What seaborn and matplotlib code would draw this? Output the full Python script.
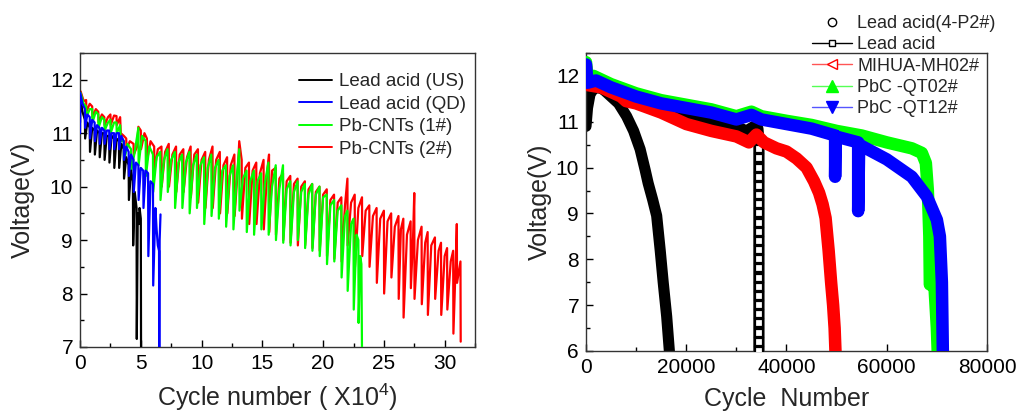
import pandas as pd
import seaborn as sns
import matplotlib.pyplot as plt
from matplotlib.lines import Line2D
from matplotlib.ticker import MultipleLocator

# ---- painel esquerdo: tensão x ciclos (x10^4) ----
us_pts = [(0.0, 11.2), (0.02, 11.65), (0.2, 11.4), (0.4, 11.25), (0.42, 10.9), (0.6, 11.2),
          (0.8, 11.1), (0.82, 10.65), (1.0, 11.1), (1.2, 11.05), (1.22, 10.6), (1.4, 11.05),
          (1.6, 11.0), (1.62, 10.55), (1.8, 11.0), (2.0, 11.0), (2.02, 10.5), (2.2, 10.95),
          (2.4, 10.95), (2.42, 10.45), (2.6, 10.95), (2.8, 10.9), (2.82, 10.35), (3.0, 10.9),
          (3.2, 10.85), (3.22, 10.35), (3.4, 10.8), (3.6, 10.7), (3.62, 10.15), (3.8, 10.55),
          (4.0, 10.4), (4.02, 9.75), (4.2, 10.3), (4.35, 10.1), (4.37, 8.9), (4.5, 9.9),
          (4.65, 9.6), (4.67, 7.15), (4.75, 9.5), (4.85, 9.3), (4.9, 9.6), (5.0, 9.4), (5.02, 6.9)]

qd_pts = [(0.0, 11.0), (0.02, 11.75), (0.2, 11.55), (0.4, 11.45), (0.42, 11.1), (0.6, 11.35),
          (0.8, 11.3), (0.82, 10.9), (1.0, 11.25), (1.2, 11.2), (1.22, 10.85), (1.4, 11.15),
          (1.6, 11.1), (1.62, 10.8), (1.8, 11.1), (2.0, 11.05), (2.02, 10.8), (2.2, 11.05),
          (2.4, 11.05), (2.42, 10.7), (2.6, 11.0), (2.8, 11.0), (2.82, 10.7), (3.0, 11.0),
          (3.2, 11.0), (3.22, 10.7), (3.4, 10.95), (3.6, 10.85), (3.62, 10.5), (3.8, 10.75),
          (4.0, 10.65), (4.02, 10.2), (4.2, 10.6), (4.4, 10.5), (4.42, 9.9), (4.6, 10.45),
          (4.8, 10.4), (4.82, 9.75), (5.0, 10.35), (5.2, 10.3), (5.22, 9.6), (5.4, 10.3),
          (5.6, 10.25), (5.62, 8.7), (5.8, 10.1), (6.0, 10.05), (6.02, 8.15), (6.2, 9.6),
          (6.3, 9.2), (6.4, 8.9), (6.5, 8.8), (6.52, 6.9), (6.55, 9.0), (6.62, 9.48)]

cnt1_pts = [(0.0, 11.5), (0.05, 11.75), (0.3, 11.55), (0.5, 11.5), (0.52, 11.3), (0.8, 11.45),
            (1.0, 11.45), (1.02, 11.2), (1.3, 11.4), (1.5, 11.35), (1.52, 11.1), (1.8, 11.3),
            (2.0, 11.25), (2.02, 11.05), (2.3, 11.2), (2.5, 11.25), (2.52, 11.0), (2.8, 11.2),
            (3.0, 11.2), (3.02, 11.0), (3.3, 11.15), (3.35, 10.85), (3.6, 10.85), (3.62, 10.45),
            (3.9, 10.8), (4.2, 10.7), (4.22, 10.3), (4.5, 10.65), (4.8, 11.1), (4.82, 10.4),
            (5.1, 10.95), (5.4, 10.85), (5.42, 10.2), (5.7, 10.75), (6.0, 10.6), (6.02, 9.9),
            (6.3, 10.55),
            (6.6, 10.65), (6.62, 9.75), (6.9, 10.5), (7.2, 10.7), (7.22, 9.9), (7.5, 10.5),
            (7.8, 10.65), (7.82, 9.6), (8.1, 10.45), (8.4, 10.6), (8.42, 9.6), (8.7, 10.45),
            (9.0, 10.65), (9.02, 9.5), (9.3, 10.4), (9.6, 10.6), (9.62, 9.6), (9.9, 10.4),
            (10.2, 10.55), (10.22, 9.3), (10.5, 10.35), (10.8, 10.6), (10.82, 9.45), (11.1, 10.35),
            (11.4, 10.5), (11.42, 9.4), (11.7, 10.3), (12.0, 10.4), (12.02, 9.25), (12.3, 10.2),
            (12.6, 10.4), (12.62, 9.2), (12.9, 10.2), (13.1, 10.7), (13.12, 9.55), (13.4, 10.15),
            (13.7, 10.3), (13.72, 9.15), (14.0, 10.1), (14.3, 10.3), (14.32, 9.1), (14.6, 10.1),
            (14.9, 10.25), (14.92, 9.2), (15.2, 10.05), (15.5, 10.45), (15.52, 9.1), (15.8, 10.0),
            (16.1, 10.4), (16.12, 9.0), (16.4, 9.95), (16.7, 10.4), (16.72, 8.95), (17.0, 9.95),
            (17.3, 10.1), (17.32, 8.9), (17.6, 9.9), (17.9, 10.1), (17.92, 9.0), (18.2, 9.9),
            (18.5, 10.05), (18.52, 8.85), (18.8, 9.85), (19.1, 10.05), (19.12, 8.8), (19.4, 9.85),
            (19.7, 10.0), (19.72, 8.7), (20.0, 9.8), (20.3, 9.85), (20.32, 8.55), (20.6, 9.65),
            (20.9, 9.75), (20.92, 8.6), (21.2, 9.55), (21.5, 9.65), (21.52, 8.3), (21.8, 9.45),
            (22.0, 9.55), (22.02, 8.05), (22.3, 9.3), (22.5, 9.4), (22.52, 7.7), (22.75, 9.1),
            (22.9, 9.0), (22.92, 7.45), (23.05, 8.7), (23.15, 8.55), (23.2, 6.9)]

cnt2_pts = [(0.0, 11.55), (0.05, 11.78), (0.3, 11.6), (0.5, 11.62), (0.52, 11.4), (0.8, 11.55),
            (1.0, 11.5), (1.02, 11.3), (1.3, 11.45), (1.5, 11.4), (1.52, 11.2), (1.8, 11.35),
            (2.0, 11.3), (2.02, 11.15), (2.3, 11.3), (2.5, 11.35), (2.52, 11.15), (2.8, 11.33),
            (3.0, 11.32), (3.02, 11.15), (3.3, 11.3), (3.35, 11.0), (3.6, 10.95), (3.8, 10.9),
            (3.82, 10.7), (4.1, 10.85), (4.4, 10.8), (4.42, 10.6), (4.7, 10.75), (4.8, 11.12),
            (5.0, 11.05), (5.02, 10.7), (5.3, 11.0), (5.5, 10.9), (5.52, 10.5), (5.8, 10.85),
            (6.1, 10.75), (6.12, 10.3), (6.4, 10.7),
            (6.7, 10.75), (6.72, 10.0), (7.0, 10.65), (7.3, 10.8), (7.32, 10.0), (7.6, 10.6),
            (7.9, 10.75), (7.92, 9.9), (8.2, 10.6), (8.5, 10.7), (8.52, 9.9), (8.8, 10.55),
            (9.1, 10.75), (9.12, 9.8), (9.4, 10.6), (9.7, 10.7), (9.72, 9.7), (10.0, 10.5),
            (10.3, 10.65), (10.32, 9.6), (10.6, 10.5), (10.9, 10.75), (10.92, 9.6), (11.2, 10.5),
            (11.5, 10.65), (11.52, 9.5), (11.8, 10.4), (12.1, 10.55), (12.12, 9.5), (12.4, 10.4),
            (12.7, 10.6), (12.72, 9.45), (13.0, 10.4), (13.1, 10.85), (13.3, 10.5), (13.32, 9.4),
            (13.6, 10.35), (13.9, 10.45), (13.92, 9.3), (14.2, 10.3), (14.5, 10.45), (14.52, 9.3),
            (14.8, 10.25), (15.1, 10.5), (15.12, 9.2), (15.4, 10.3), (15.55, 10.6), (15.57, 9.15),
            (15.8, 10.3), (16.1, 10.35), (16.12, 9.1), (16.4, 10.15), (16.7, 10.25), (16.72, 9.0),
            (17.0, 10.1), (17.3, 10.2), (17.32, 8.95), (17.6, 10.05), (17.9, 10.15), (17.92, 8.9),
            (18.2, 10.0), (18.5, 10.1), (18.52, 8.9), (18.8, 9.95), (19.1, 10.05), (19.12, 8.85),
            (19.4, 9.9), (19.7, 10.0), (19.72, 8.8), (20.0, 9.85), (20.3, 9.95), (20.32, 8.7),
            (20.6, 9.75), (20.9, 9.85), (20.92, 8.65), (21.2, 9.7), (21.5, 9.8), (21.52, 8.6),
            (21.8, 9.65), (22.0, 10.15), (22.02, 8.9), (22.3, 9.7), (22.6, 9.85), (22.62, 8.5),
            (22.9, 9.6), (23.2, 9.8), (23.22, 8.7), (23.5, 9.55), (23.8, 9.65), (23.82, 8.5),
            (24.1, 9.45), (24.4, 9.6), (24.42, 8.2), (24.7, 9.4), (25.0, 9.55), (25.02, 8.0),
            (25.3, 9.35), (25.6, 9.5), (25.62, 8.3), (25.9, 9.25), (26.2, 9.45), (26.22, 7.9),
            (26.4, 9.2), (26.6, 9.4), (26.62, 7.55), (26.9, 9.1), (27.2, 9.35), (27.22, 8.1),
            (27.4, 9.05), (27.5, 9.88), (27.52, 7.9), (27.8, 9.0), (28.1, 9.25), (28.12, 7.8),
            (28.4, 8.95), (28.6, 9.15), (28.62, 7.6), (28.9, 8.9), (29.2, 9.05), (29.22, 7.9),
            (29.5, 8.8), (29.7, 8.95), (29.72, 7.6), (30.0, 8.7), (30.2, 8.85), (30.22, 7.7),
            (30.5, 8.6), (30.7, 8.8), (30.72, 7.25), (30.9, 8.5), (31.0, 9.3), (31.02, 8.2),
            (31.2, 8.45), (31.3, 8.6), (31.32, 7.1)]

# ---- painel direito: tensão x número de ciclos ----
p2_pts = [(0, 10.9), (300, 11.3), (800, 11.6), (1500, 11.72), (2500, 11.75), (3500, 11.7),
          (5000, 11.55), (6500, 11.4), (8100, 11.12), (9500, 10.8), (10800, 10.4), (11800, 9.95),
          (12400, 9.66), (13300, 9.3), (14100, 8.95), (14800, 8.2), (15400, 7.5), (16100, 6.75),
          (16700, 5.9)]

lead_pts = [(0, 11.8), (2000, 11.85), (5000, 11.7), (10000, 11.45), (15000, 11.3), (20000, 11.1),
            (25000, 11.0), (30000, 10.9), (32000, 10.8), (33500, 10.9), (34300, 10.85),
            (34500, 10.6), (34500, 10.4), (34500, 10.2), (34500, 10.0), (34500, 9.8), (34500, 9.6),
            (34500, 9.4), (34500, 9.2), (34500, 9.0), (34500, 8.8), (34500, 8.6), (34500, 8.4),
            (34500, 8.2), (34500, 8.0), (34500, 7.8), (34500, 7.6), (34500, 7.4), (34500, 7.2),
            (34500, 7.0), (34500, 6.8), (34500, 6.6), (34500, 6.4), (34500, 6.2), (34500, 6.0)]

mihua_pts = [(0, 12.2), (300, 11.8), (3000, 11.75), (7000, 11.55), (8000, 11.45), (10000, 11.4),
             (15000, 11.2), (20000, 10.95), (25000, 10.8), (30000, 10.68), (32500, 10.55),
             (34000, 10.72), (35500, 10.55), (38000, 10.42), (40000, 10.35), (42000, 10.2),
             (44000, 10.0), (45500, 9.7), (46500, 9.45), (47200, 9.2), (47800, 8.9), (48400, 8.2),
             (48900, 7.5), (49300, 7.0), (49600, 6.5), (49800, 5.9)]

qt02_pts = [(0, 12.3), (300, 11.95), (1500, 12.0), (5000, 11.82), (10000, 11.62), (15000, 11.47),
            (20000, 11.37), (25000, 11.27), (30000, 11.12), (33000, 11.22), (35000, 11.12),
            (40000, 11.02), (45000, 10.93), (50000, 10.8), (55000, 10.7), (60000, 10.55),
            (65000, 10.42), (67000, 10.32), (67800, 10.1), (68200, 9.5), (68500, 8.5), (68600, 7.45),
            (69500, 7.45), (70000, 6.5), (70200, 5.9)]

qt12_pts = [(0, 12.25), (300, 11.85), (2000, 11.9), (5000, 11.75), (10000, 11.55), (15000, 11.4),
            (20000, 11.3), (25000, 11.2), (30000, 11.05), (33000, 11.15), (35000, 11.05),
            (40000, 10.95), (45000, 10.85), (49700, 10.7), (49700, 9.8), (49800, 10.68),
            (54300, 10.55), (54300, 9.05), (54500, 10.5), (60000, 10.18), (65000, 9.8),
            (68000, 9.37), (70000, 8.86), (70600, 8.5), (71000, 7.5), (71200, 5.9)]

plt.rcParams['figure.dpi'] = 100
sns.set_theme(style='ticks')
plt.rcParams['font.family'] = ['Liberation Sans', 'DejaVu Sans']
plt.rcParams['mathtext.fontset'] = 'custom'
plt.rcParams['mathtext.rm'] = 'Liberation Sans'


def desenha(ax, pts, cor, lw, z):
    df = pd.DataFrame(pts, columns=['ciclo', 'tensao'])
    sns.lineplot(data=df, x='ciclo', y='tensao', ax=ax, color=cor, linewidth=lw,
                 estimator=None, sort=False, zorder=z)


fig = plt.figure(figsize=(10.17, 4.12))
ax1 = fig.add_axes([0.0787, 0.1578, 0.3884, 0.7136])
ax2 = fig.add_axes([0.5762, 0.1481, 0.3943, 0.7233])

# painel 1
desenha(ax1, cnt2_pts, '#ff0000', 1.6, 2)
desenha(ax1, cnt1_pts, '#00ff00', 1.6, 3)
desenha(ax1, us_pts, '#000000', 1.6, 4)
desenha(ax1, qd_pts, '#0000ff', 1.6, 5)
ax1.set_xlim(0, 32.5)
ax1.set_ylim(7, 12.5)
ax1.xaxis.set_major_locator(MultipleLocator(5))
ax1.xaxis.set_minor_locator(MultipleLocator(2.5))
ax1.yaxis.set_major_locator(MultipleLocator(1))
ax1.yaxis.set_minor_locator(MultipleLocator(0.5))
ax1.set_xlabel(r'Cycle number ( X10$^{4}$)', fontsize=18, labelpad=6)
ax1.set_ylabel('Voltage(V)', fontsize=18, labelpad=11)
h1 = [Line2D([], [], color=c, lw=1.4) for c in ['#000000', '#0000ff', '#00ff00', '#ff0000']]
ax1.legend(h1, ['Lead acid (US)', 'Lead acid (QD)', 'Pb-CNTs (1#)', 'Pb-CNTs (2#)'],
           loc='upper left', bbox_to_anchor=(0.555, 0.932), frameon=False, fontsize=13.5,
           handlelength=1.75, handletextpad=0.35, labelspacing=0.29, borderpad=0, borderaxespad=0)

# painel 2
desenha(ax2, p2_pts, '#000000', 8, 2)
desenha(ax2, lead_pts, '#000000', 8, 3)
lead_df = pd.DataFrame(lead_pts, columns=['ciclo', 'tensao'])
queda = lead_df[lead_df['tensao'] < 10.7]
ax2.plot(queda['ciclo'], queda['tensao'], ls='none', marker='s', ms=5.5, mfc='white',
         mec='#000000', mew=1.6, zorder=3)
desenha(ax2, mihua_pts, '#ff0000', 9, 4)
desenha(ax2, qt02_pts, '#00ff00', 9, 5)
desenha(ax2, qt12_pts, '#0000ff', 9, 6)
ax2.set_xlim(0, 80000)
ax2.set_ylim(6, 12.5)
ax2.xaxis.set_major_locator(MultipleLocator(20000))
ax2.xaxis.set_minor_locator(MultipleLocator(10000))
ax2.yaxis.set_major_locator(MultipleLocator(1))
ax2.yaxis.set_minor_locator(MultipleLocator(0.5))
ax2.set_xlabel('Cycle  Number', fontsize=18, labelpad=7)
ax2.set_ylabel('Voltage(V)', fontsize=18, labelpad=3)

h2 = [Line2D([], [], ls='none', marker='o', ms=6, mfc='none', mec='#000000', mew=1),
      Line2D([], [], color='#000000', lw=1, marker='s', ms=5, mfc='white', mec='#000000'),
      Line2D([], [], color='#ff5555', lw=1, marker='<', ms=7, mfc='white', mec='#ff0000'),
      Line2D([], [], color='#55ff55', lw=1, marker='^', ms=8, mfc='#00ff00', mec='#00ff00'),
      Line2D([], [], color='#5555ff', lw=1, marker='v', ms=8, mfc='#0000ff', mec='#0000ff')]
fig.legend(h2, ['Lead acid(4-P2#)', 'Lead acid', 'MIHUA-MH02#', 'PbC -QT02#', 'PbC -QT12#'],
           loc='upper left', bbox_to_anchor=(812 / 1017, 1 - 15 / 412), frameon=False,
           fontsize=13, handlelength=2.2, handletextpad=0.3, labelspacing=0.24,
           borderpad=0, borderaxespad=0)

for ax in (ax1, ax2):
    ax.tick_params(which='both', direction='in', labelsize=15, pad=5, color='#000000')
    ax.tick_params(which='major', length=5, width=1)
    ax.tick_params(which='minor', length=3, width=1)
    for s in ax.spines.values():
        s.set_visible(True)
        s.set_color('#333333')
        s.set_linewidth(1)
    ax.tick_params(labelcolor='#000000')

fig.savefig('out.png', dpi=100)
